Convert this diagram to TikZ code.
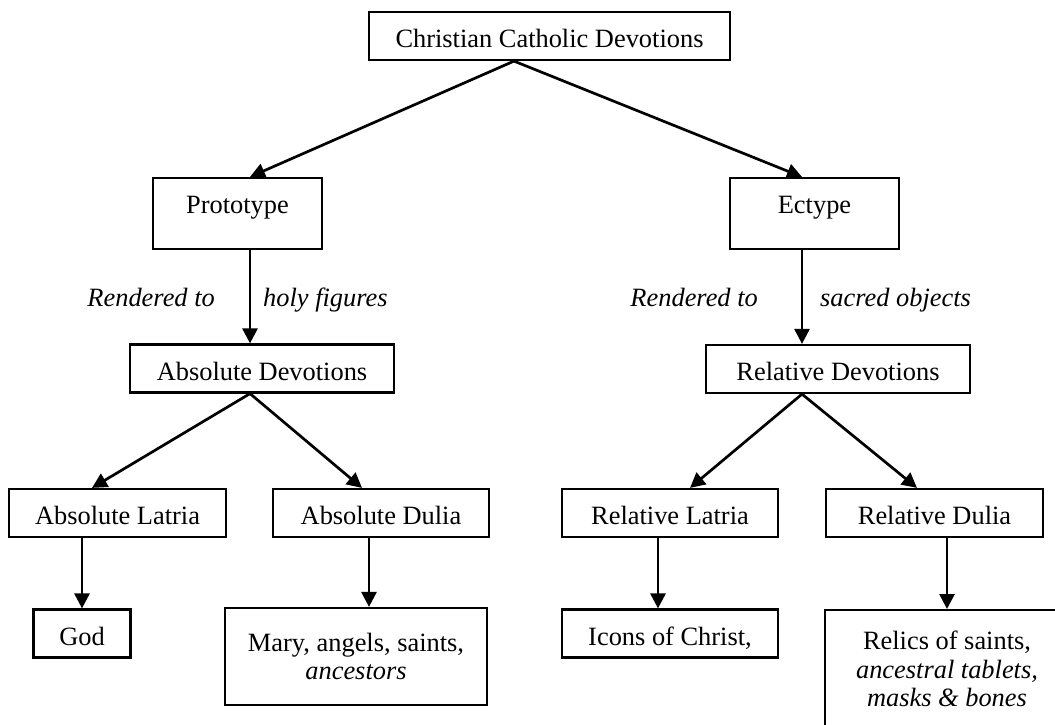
\documentclass[tikz,border=0pt]{standalone}
\usepackage{fontspec}
\setmainfont{Liberation Serif}
\usetikzlibrary{arrows.meta}

\begin{document}
\begin{tikzpicture}[
  x=1pt, y=-1pt,
  box/.style={draw, line width=2.2pt, inner xsep=0pt, inner ysep=0pt, font=\fontsize{26.4}{28.6}\selectfont},
  single/.style={box, minimum height=48pt, text height=23pt, text depth=0pt},
  multi/.style={box, align=center},
  note/.style={inner sep=0pt, font=\fontsize{26.4}{28.6}\selectfont\itshape},
  arrow/.style={-{Triangle[width=15pt,length=15pt]}, line width=2.7pt}
]
  \path[use as bounding box, clip] (0,0) rectangle (1055,724);

  % levels
  \node[single, minimum width=361pt] (root) at (549.5,36) {Christian Catholic Devotions};
  \node[box, minimum width=169pt, text height=35pt, text depth=36pt] (proto) at (237.5,213.5) {Prototype};
  \node[box, minimum width=169pt, text height=35pt, text depth=36pt] (ecto) at (814.5,213.5) {Ectype};
  \node[single, minimum width=264pt] (absdev) at (262,368.5) {Absolute Devotions};
  \node[single, minimum width=264pt] (reldev) at (838,369) {Relative Devotions};
  \node[single, minimum width=217pt] (abslat) at (117.5,513) {Absolute Latria};
  \node[single, minimum width=216pt] (absdul) at (381,513) {Absolute Dulia};
  \node[single, minimum width=216pt] (rellat) at (670,513) {Relative Latria};
  \node[single, minimum width=217pt] (reldul) at (934.5,513) {Relative Dulia};
  \node[single, minimum width=97pt] (god) at (82,633.5) {God};
  \node[multi, minimum width=262pt, minimum height=97pt] (mary) at (356,656.5) {Mary, angels, saints,\\ \textit{ancestors}};
  \node[single, minimum width=216pt] (icons) at (670,633.5) {Icons of Christ,};
  \node[multi, anchor=north, minimum width=244pt, inner ysep=21pt] (relics) at (947,609) {Relics of saints,\\ \textit{ancestral tablets,}\\ \textit{masks \& bones}};

  % labels
  \node[note, anchor=base east] (rendA) at (215,306) {Rendered to};
  \node[note, anchor=base west] (holy) at (263,306) {holy figures};
  \node[note, anchor=base east] (rendB) at (758,306) {Rendered to};
  \node[note, anchor=base west] (sacred) at (820,306) {sacred objects};

  % arrows
  \draw[arrow] ([xshift=-35.5pt]root.south) -- ([xshift=12.5pt]proto.north);
  \draw[arrow] ([xshift=-35.5pt]root.south) -- ([xshift=-12.5pt]ecto.north);
  \draw[arrow] ([xshift=12.5pt]proto.south) -- ([xshift=-12pt]absdev.north);
  \draw[arrow] ([xshift=-12.5pt]ecto.south) -- ([xshift=-36pt]reldev.north);
  \draw[arrow] ([xshift=-12pt]absdev.south) -- ([xshift=-25.5pt]abslat.north);
  \draw[arrow] ([xshift=-12pt]absdev.south) -- ([xshift=-19pt]absdul.north);
  \draw[arrow] ([xshift=-36pt]reldev.south) -- ([xshift=20pt]rellat.north);
  \draw[arrow] ([xshift=-36pt]reldev.south) -- ([xshift=-17.5pt]reldul.north);
  \draw[arrow] ([xshift=-35.5pt]abslat.south) -- (god.north);
  \draw[arrow] ([xshift=-12pt]absdul.south) -- ([xshift=13pt]mary.north);
  \draw[arrow] ([xshift=-12pt]rellat.south) -- ([xshift=-12pt]icons.north);
  \draw[arrow] ([xshift=12.5pt]reldul.south) -- (relics.north);
\end{tikzpicture}
\end{document}
